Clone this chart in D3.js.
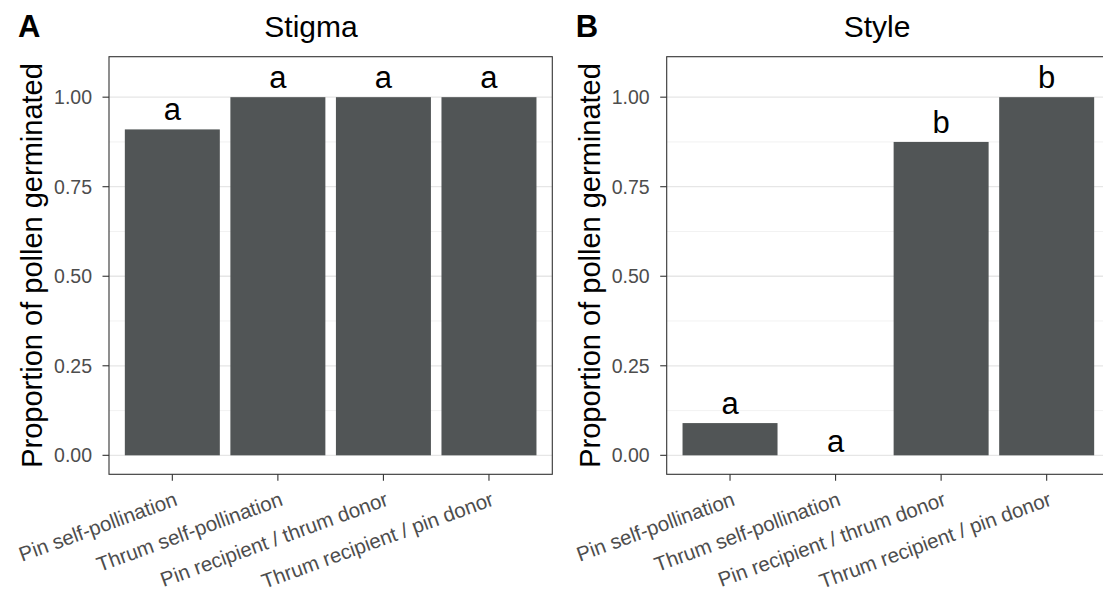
<!DOCTYPE html>
<html>
<head>
<meta charset="utf-8">
<script src="https://cdn.jsdelivr.net/npm/d3@7"></script>
<style>
  body { margin: 0; background: #fff; }
  text { font-family: "Liberation Sans", Arial, sans-serif; }
</style>
</head>
<body>
<div id="chart"></div>
<script>
// categories shared by both panels
const categories = [
  "Pin self-pollination",
  "Thrum self-pollination",
  "Pin recipient / thrum donor",
  "Thrum recipient / pin donor"
];
// proportion germinated
const stigmaValues = [0.91, 1.00, 1.00, 1.00];
const styleValues = [0.09, 0.00, 0.875, 1.00];
// significance letters and where they sit (data units)
const stigmaLetters = ["a", "a", "a", "a"];
const styleLetters = ["a", "a", "b", "b"];
const stigmaLetterY = [0.937, 1.027, 1.027, 1.027];
const styleLetterY = [0.115, 0.008, 0.90, 1.027];
const yTicks = [0, 0.25, 0.5, 0.75, 1];
const yMinor = [0.125, 0.375, 0.625, 0.875];

const W = 1103, H = 595;
const panelW = 443.3, panelTop = 56.7, panelBottom = 474.3;

const svg = d3.select("#chart").append("svg")
  .attr("width", W).attr("height", H);
svg.append("rect").attr("width", W).attr("height", H).attr("fill", "#fff");

const panels = [
  { tag: "A", title: "Stigma", titleX: 311, x0: 109, values: stigmaValues, letters: stigmaLetters, letterY: stigmaLetterY },
  { tag: "B", title: "Style", titleX: 877, x0: 666.7, values: styleValues, letters: styleLetters, letterY: styleLetterY }
];

const y = d3.scaleLinear().domain([-0.053, 1.113]).range([panelBottom, panelTop]);

panels.forEach(p => {
  const x = d3.scaleBand()
    .domain(categories)
    .range([p.x0, p.x0 + panelW])
    .paddingInner(0.1)
    .paddingOuter(0.15);

  const g = svg.append("g");

  // tag + title
  g.append("text").text(p.tag)
    .attr("x", p.x0 - 91).attr("y", 37.3)
    .style("font-size", "31px").style("font-weight", "bold").attr("fill", "#000");
  g.append("text").text(p.title)
    .attr("x", p.titleX).attr("y", 37)
    .attr("text-anchor", "middle")
    .style("font-size", "30px").attr("fill", "#000");

  // grid
  g.selectAll(".minor").data(yMinor).join("line")
    .attr("x1", p.x0).attr("x2", p.x0 + panelW)
    .attr("y1", d => y(d)).attr("y2", d => y(d))
    .attr("stroke", "#ededed").attr("stroke-width", 0.7);
  g.selectAll(".major").data(yTicks).join("line")
    .attr("x1", p.x0).attr("x2", p.x0 + panelW)
    .attr("y1", d => y(d)).attr("y2", d => y(d))
    .attr("stroke", "#e6e6e6").attr("stroke-width", 1.3);

  // bars
  g.selectAll(".bar").data(p.values).join("rect")
    .attr("x", (d, i) => x(categories[i]))
    .attr("width", x.bandwidth())
    .attr("y", d => y(d))
    .attr("height", d => y(0) - y(d))
    .attr("fill", "#515556");

  // letters
  g.selectAll(".letter").data(p.letters).join("text")
    .text(d => d)
    .attr("x", (d, i) => x(categories[i]) + x.bandwidth() / 2)
    .attr("y", (d, i) => y(p.letterY[i]))
    .attr("text-anchor", "middle")
    .style("font-size", "31px").attr("fill", "#000");

  // panel border
  g.append("rect")
    .attr("x", p.x0).attr("y", panelTop)
    .attr("width", panelW).attr("height", panelBottom - panelTop)
    .attr("fill", "none").attr("stroke", "#333").attr("stroke-width", 1.1);

  // y axis ticks + labels
  g.selectAll(".ytick").data(yTicks).join("line")
    .attr("x1", p.x0 - 6.5).attr("x2", p.x0)
    .attr("y1", d => y(d)).attr("y2", d => y(d))
    .attr("stroke", "#333").attr("stroke-width", 1.1);
  g.selectAll(".ylab").data(yTicks).join("text")
    .text(d3.format(".2f"))
    .attr("x", p.x0 - 17)
    .attr("y", d => y(d))
    .attr("dy", "0.35em")
    .attr("text-anchor", "end")
    .style("font-size", "19.5px").attr("fill", "#4d4d4d");

  // y title
  g.append("text").text("Proportion of pollen germinated")
    .attr("transform", `translate(${p.x0 - 67},${(panelTop + panelBottom) / 2}) rotate(-90)`)
    .attr("text-anchor", "middle")
    .style("font-size", "29px").attr("fill", "#000");

  // x axis ticks + labels
  g.selectAll(".xtick").data(categories).join("line")
    .attr("x1", d => x(d) + x.bandwidth() / 2).attr("x2", d => x(d) + x.bandwidth() / 2)
    .attr("y1", panelBottom).attr("y2", panelBottom + 6.5)
    .attr("stroke", "#333").attr("stroke-width", 1.1);
  g.selectAll(".xlab").data(categories).join("text")
    .text(d => d)
    .attr("transform", d => `translate(${x(d) + x.bandwidth() / 2 + 1},491) rotate(-20)`)
    .attr("dy", "0.72em")
    .attr("text-anchor", "end")
    .style("font-size", "20.5px").attr("fill", "#4d4d4d");
});
</script>
</body>
</html>
